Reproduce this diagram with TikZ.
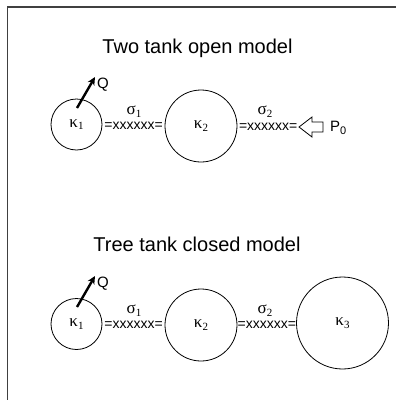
\documentclass[tikz,border=0pt]{standalone}
\usepackage{fontspec}
\setmainfont{Liberation Serif}
\newfontfamily\arialf{Liberation Sans}
\usetikzlibrary{arrows.meta}
\newcommand{\kap}[1]{κ\raisebox{-0.35ex}{\fontsize{11}{11}\selectfont #1}}
\newcommand{\sig}[1]{σ\raisebox{-0.3ex}{\fontsize{11}{11}\selectfont #1}}
\begin{document}
\begin{tikzpicture}[x=1pt,y=-1pt,
  tank/.style={circle, draw, line width=0.8pt, inner sep=0pt, font=\fontsize{17}{17}\selectfont},
  spring/.style={inner sep=0pt, font=\arialf\fontsize{14}{14}\selectfont},
  siglab/.style={inner sep=0pt, font=\fontsize{17}{17}\selectfont},
  ttl/.style={inner sep=0pt, anchor=base, font=\arialf\fontsize{20}{20}\selectfont},
  lab/.style={inner sep=0pt, anchor=west, font=\arialf\fontsize{15}{15}\selectfont},
  flow/.style={line width=2.4pt, -{Stealth[length=8pt,width=7.5pt]}},
  frameline/.style={line width=1.5pt, black!75}]
\useasboundingbox (0,0) rectangle (396,400);
\draw[frameline] (7.5,400) -- (7.5,7) -- (396,7);

% Two tank open model
\node[ttl] (t1) at (197.5,53) {Two tank open model};
\node[tank, minimum size=51] (a1) at (76.5,124.5) {\kap{1}};
\node[tank, minimum size=72] (a2) at (201,126) {\kap{2}};
\path (a1.east) -- node[spring, yshift=-0.5] (as1) {=xxxxxx=} (a2.west);
\node[siglab] (asg1) at (134,111.5) {\sig{1}};
\coordinate (atip) at (299,127);
\path (a2.east) -- node[spring, yshift=-0.5] (as2) {=xxxxxx=} (atip);
\draw[line width=0.8pt] (atip) -- (312,117) -- (312,122) -- (323,122) -- (323,132) -- (312,132) -- (312,137) -- cycle;
\node[siglab] (asg2) at (265,111.5) {\sig{2}};
\node[lab] (ap) at (330,128) {P\raisebox{-0.4ex}{\fontsize{11}{11}\selectfont 0}};
\coordinate (aq0) at (77,108);
\coordinate (aq1) at (95,77);
\draw[flow] (aq0) -- (aq1);
\node[lab] (aq) at (97,85) {Q};

% Tree tank closed model
\node[ttl] (t2) at (197,251) {Tree tank closed model};
\node[tank, minimum size=51] (b1) at (76.5,324) {\kap{1}};
\node[tank, minimum size=72] (b2) at (201,325) {\kap{2}};
\node[tank, minimum size=92] (b3) at (342.5,323) {\kap{3}};
\path (b1.east) -- node[spring, yshift=-0.5] (bs1) {=xxxxxx=} (b2.west);
\path (b2.east) -- node[spring, yshift=-1] (bs2) {=xxxxxx=} (b3.west);
\node[siglab] (bsg1) at (134,310.5) {\sig{1}};
\node[siglab] (bsg2) at (265,310.5) {\sig{2}};
\coordinate (bq0) at (77,307);
\coordinate (bq1) at (95,276);
\draw[flow] (bq0) -- (bq1);
\node[lab] (bq) at (97,284) {Q};
\end{tikzpicture}
\end{document}
